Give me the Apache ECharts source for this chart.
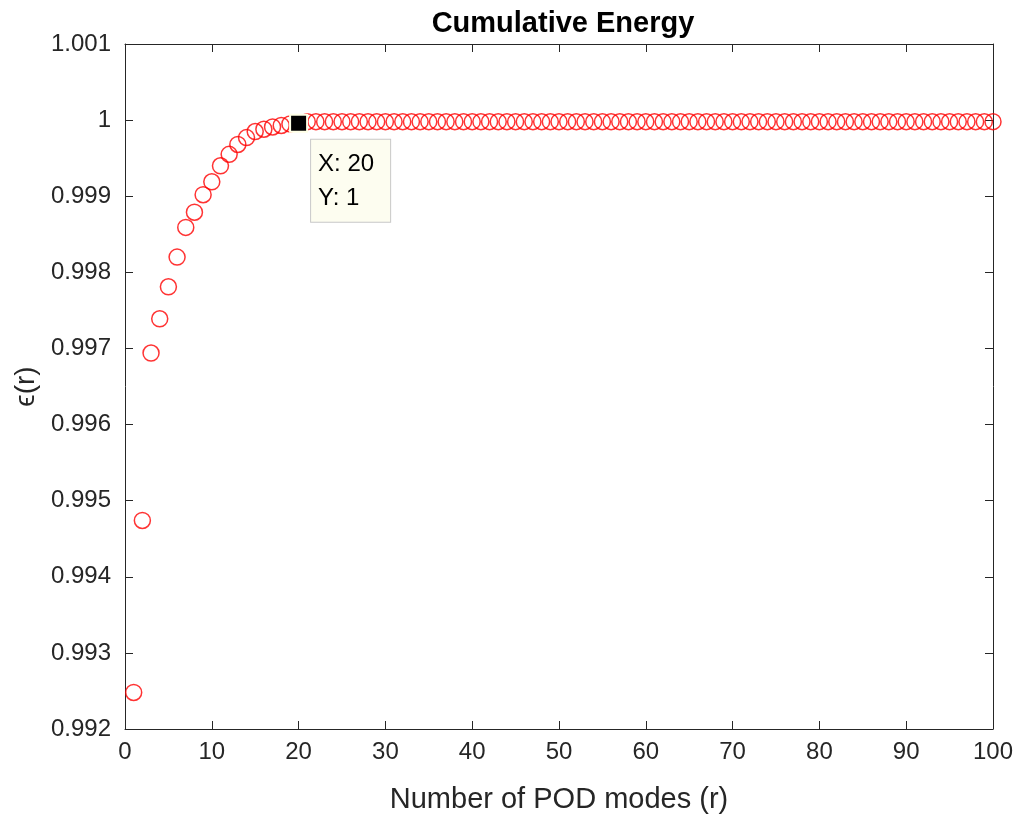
<!DOCTYPE html>
<html>
<head>
<meta charset="utf-8">
<script src="https://cdn.jsdelivr.net/npm/echarts@6/dist/echarts.min.js"></script>
<style>html,body{margin:0;padding:0;background:#fff}#c{width:1018px;height:819px}</style>
</head>
<body>
<div id="c"></div>
<script>
const modes = Array.from({length: 100}, (_, i) => i + 1);
const energyHead = [0.99248, 0.99474, 0.99694, 0.99739, 0.99781, 0.99820, 0.99859, 0.99879, 0.99902, 0.99919,
  0.99940, 0.99955, 0.99968, 0.99977, 0.99985, 0.99988, 0.99991, 0.99993, 0.99995, 0.99996];
const energyTail = new Array(80).fill(0.99998);
const energy = energyHead.concat(energyTail);
const yTicks = [0.992, 0.993, 0.994, 0.995, 0.996, 0.997, 0.998, 0.999, 1, 1.001];
const tipX = 20, tipLabel = 'X: 20\nY: 1';

const axisColor = '#262626';
const font = 'Liberation Sans, Arial, Helvetica, sans-serif';
const chart = echarts.init(document.getElementById('c'), null, {renderer: 'canvas'});
const baseX = {
  type: 'value', min: 0, max: 100, interval: 10,
  axisLine: {show: true, onZero: false, lineStyle: {color: axisColor, width: 1}},
  axisTick: {show: true, inside: true, length: 8, lineStyle: {color: axisColor}},
  splitLine: {show: false}
};
const baseY = {
  type: 'value', min: 0.992, max: 1.001, interval: 0.001,
  axisLine: {show: true, onZero: false, lineStyle: {color: axisColor, width: 1}},
  axisTick: {show: true, inside: true, length: 8, lineStyle: {color: axisColor}},
  splitLine: {show: false}
};
chart.setOption({
  animation: false,
  backgroundColor: '#fff',
  title: {
    text: 'Cumulative Energy', left: 558, top: 4, textAlign: 'center',
    textStyle: {fontFamily: font, fontSize: 29, fontWeight: 'bold', color: '#000'}
  },
  grid: {left: 125, right: 25, top: 44, bottom: 88, containLabel: false},
  xAxis: [
    Object.assign({}, baseX, {
      position: 'bottom',
      name: 'Number of POD modes (r)', nameLocation: 'middle', nameGap: 56,
      nameTextStyle: {fontFamily: font, fontSize: 29, color: axisColor},
      axisLabel: {fontFamily: font, fontSize: 24, color: axisColor, margin: 11}
    }),
    Object.assign({}, baseX, {position: 'top', axisLabel: {show: false}})
  ],
  yAxis: [
    Object.assign({}, baseY, {
      position: 'left',
      name: 'ϵ(r)', nameLocation: 'middle', nameGap: 72, nameRotate: 90,
      nameTextStyle: {fontFamily: font, fontSize: 28, color: axisColor},
      axisLabel: {fontFamily: font, fontSize: 24, color: axisColor, margin: 14,
        formatter: v => { const t = yTicks.find(k => Math.abs(k - v) < 1e-9); return t === undefined ? '' : String(t); }}
    }),
    Object.assign({}, baseY, {position: 'right', axisLabel: {show: false}})
  ],
  series: [
    {
      type: 'scatter',
      data: modes.map((m, i) => [m, energy[i]]),
      symbol: 'circle', symbolSize: 16,
      itemStyle: {color: 'rgba(0,0,0,0)', borderColor: '#ff0000', borderWidth: 1.5},
      z: 2
    },
    {
      type: 'scatter',
      data: [[tipX, energy[tipX - 1]]],
      symbol: 'rect', symbolSize: 17,
      itemStyle: {color: '#000', borderColor: '#ffffe6', borderWidth: 2, opacity: 1},
      label: {
        show: true, position: [22, 26], formatter: tipLabel,
        fontFamily: font, fontSize: 24, color: '#000', lineHeight: 34,
        backgroundColor: '#fdfdf0', borderColor: '#c8c8c8', borderWidth: 1,
        padding: [8, 16, 6, 7], align: 'left', verticalAlign: 'top'
      },
      z: 5
    }
  ]
});
</script>
</body>
</html>
